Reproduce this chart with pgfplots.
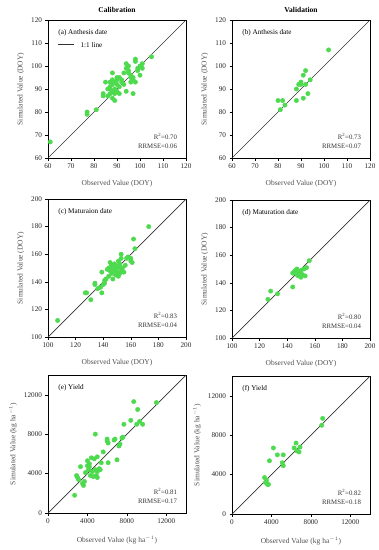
\documentclass[border=0pt]{standalone}
\usepackage{pgfplots}
\pgfplotsset{compat=1.18}
\usepackage{fontspec}
\setmainfont{Liberation Serif}
\definecolor{pt}{RGB}{78,218,78}
\definecolor{lab}{RGB}{80,80,80}
\pgfplotsset{
  panel/.style={
    scale only axis, width=138pt, height=138pt,
    anchor=north west,
    tick align=outside, xtick pos=bottom, ytick pos=left,
    major tick length=2.5pt,
    tick style={black, line width=0.4pt},
    axis line style={line width=0.5pt},
    /pgf/number format/assume math mode=true,
    /pgf/number format/set thousands separator={},
    scaled ticks=false,
    ticklabel style={font=\fontsize{7.2}{8}\selectfont, text=black!85},
    label style={font=\fontsize{7.5}{8}\selectfont, text=lab},
    xlabel style={yshift=-5pt},
    ylabel style={yshift=0pt},
    clip=false,
  },
  dots/.style={only marks, mark=*, mark size=2.2pt, color=pt, mark options={draw=pt, fill=pt}},
  oneline/.style={black!80, line width=0.7pt, no marks},
}
\newcommand{\ptxt}[1]{\node[anchor=north west, font=\fontsize{7.2}{8}\selectfont] at (rel axis cs:0.05,0.96) {#1};}
\newcommand{\stat}[2]{\node[anchor=south east, align=right, font=\fontsize{6.8}{9}\selectfont, text=black!80] at (rel axis cs:0.96,0.04) {R\textsuperscript{2}=#1\\RRMSE=#2};}
\begin{document}
\begin{tikzpicture}
\useasboundingbox (0pt,0pt) rectangle (379pt,-550pt);
\node[font=\bfseries\fontsize{7.5}{8}\selectfont] at (117pt,-10pt) {Calibration};
\node[font=\bfseries\fontsize{7.5}{8}\selectfont] at (301pt,-10pt) {Validation};
% (a)
\begin{axis}[panel, at={(48pt,-20pt)}, xmin=60, xmax=120, ymin=60, ymax=120,
  xtick={60,70,...,120}, ytick={60,70,...,120},
  xlabel={Observed Value (DOY)}, ylabel={Simulated Value (DOY)}]
\addplot[oneline] coordinates {(60,60) (120,120)};
\addplot[dots] coordinates {
(61,67) (77,80) (77,79) (81,81) (84,87) (84,88) (85,93) (86,87) (87,88) (87,90)
(87,91) (88,89) (88,92) (88,86) (89,85) (88,94) (88,97) (89,90) (89,93) (90,92)
(90,94) (90,95) (91,88) (91,95) (91,91) (92,93) (93,97) (94,89) (94,99) (94,101)
(95,97) (95,98) (96,95) (96,96) (97,94) (97,88) (97,95) (98,102) (98,103) (98,93)
(99,99) (99,98) (100,96) (101,99) (101,101) (100,100) (105,104) (92,94) (93,92) (86,90)
(89,88) (90,89) (95,100) (96,93) (87,93)};
\ptxt{(a) Anthesis date}
\draw[black!80, line width=0.7pt] (rel axis cs:0.07,0.82) -- (rel axis cs:0.19,0.82);
\node[anchor=west, font=\fontsize{7.2}{8}\selectfont] at (rel axis cs:0.21,0.82) {1:1 line};
\stat{0.70}{0.06}
\end{axis}
% (b)
\begin{axis}[panel, at={(232pt,-20pt)}, xmin=60, xmax=120, ymin=60, ymax=120,
  xtick={60,70,...,120}, ytick={60,70,...,120},
  xlabel={Observed Value (DOY)}, ylabel={Simulated Value (DOY)}]
\addplot[oneline] coordinates {(60,60) (120,120)};
\addplot[dots] coordinates {
(80,85) (82,85) (81,81) (83,83) (88,85) (88,90) (89,92) (90,93) (90,92) (91,96)
(91,86) (92,98) (92,92) (93,88) (94,94) (102,107)};
\ptxt{(b) Anthesis date}
\stat{0.73}{0.07}
\end{axis}
% (c)
\begin{axis}[panel, at={(48pt,-199pt)}, xmin=100, xmax=200, ymin=100, ymax=200,
  xtick={100,120,...,200}, ytick={100,120,...,200},
  xlabel={Observed Value (DOY)}, ylabel={Simulated Value (DOY)}]
\addplot[oneline] coordinates {(100,100) (200,200)};
\addplot[dots] coordinates {
(107,112) (127,132) (128,132) (131,127) (134,139) (134,138) (136,135) (138,136) (139,132) (139,147)
(140,138) (141,141) (142,142) (143,149) (144,144) (144,150) (145,154) (145,148) (146,146) (146,152)
(147,142) (147,150) (148,148) (148,153) (149,152) (149,145) (150,150) (150,147) (151,144) (151,155)
(151,151) (152,146) (152,153) (153,157) (153,160) (153,148) (154,150) (155,147) (156,152) (157,157)
(158,158) (160,155) (160,157) (161,154) (162,171) (163,164) (173,180) (141,139) (150,145) (152,151)};
\ptxt{(c) Maturaion date}
\stat{0.83}{0.04}
\end{axis}
% (d)
\begin{axis}[panel, at={(232pt,-200pt)}, xmin=100, xmax=200, ymin=100, ymax=200,
  xtick={100,120,...,200}, ytick={100,120,...,200},
  xlabel={Observed Value (DOY)}, ylabel={Simulated Value (DOY)}]
\addplot[oneline] coordinates {(100,100) (200,200)};
\addplot[dots] coordinates {
(126,128) (128,134) (133,132) (144,137) (144,147) (145,148) (146,149) (147,150) (147,146) (148,145)
(149,147) (150,144) (150,149) (151,146) (152,150) (153,145) (154,151) (156,156) (149,148)};
\ptxt{(d) Maturation date}
\stat{0.80}{0.04}
\end{axis}
% (e)
\begin{axis}[panel, at={(48pt,-375pt)}, xmin=0, xmax=14000, ymin=0, ymax=14000,
  xtick={0,4000,8000,12000}, ytick={0,4000,8000,12000},
  xlabel={Observed Value (kg ha\textsuperscript{$-1$})}, ylabel={Simulated Value (kg ha\textsuperscript{$-1$})}]
\addplot[oneline] coordinates {(0,0) (14000,14000)};
\addplot[dots] coordinates {
(2700,1800) (2900,3800) (3000,3600) (3100,3400) (3300,4700) (3500,3000) (3600,2800) (3700,3200) (3800,4100) (4000,4800)
(4000,5300) (4100,4400) (4200,5000) (4300,3800) (4400,5600) (4500,4200) (4600,3700) (4700,5500) (4800,8000) (4800,4400)
(4900,3800) (5000,3600) (5000,5700) (5200,4500) (5300,4400) (5400,5100) (5600,6200) (6000,7300) (6000,7500) (6100,5100)
(6100,7100) (6700,7400) (6800,7500) (7000,5400) (7200,6800) (7300,7000) (7500,7600) (7600,7700) (7700,9000) (8400,9400)
(8700,11300) (9000,9000) (9100,10500) (9300,9300) (9600,9000) (11000,11200) (4200,4700) (5000,4200)};
\ptxt{(e) Yield}
\stat{0.81}{0.17}
\end{axis}
% (f)
\begin{axis}[panel, at={(232pt,-376pt)}, xmin=0, xmax=14000, ymin=0, ymax=14000,
  xtick={0,4000,8000,12000}, ytick={0,4000,8000,12000},
  xlabel={Observed Value (kg ha\textsuperscript{$-1$})}, ylabel={Simulated Value (kg ha\textsuperscript{$-1$})}]
\addplot[oneline] coordinates {(0,0) (14000,14000)};
\addplot[dots] coordinates {
(3300,3700) (3400,3200) (3500,3400) (3600,3000) (3700,3000) (3800,5400) (4200,6700) (4600,6000) (5100,5200) (5200,4900)
(5200,6000) (6300,6700) (6500,7200) (6600,6400) (6800,6300) (6900,6800) (9100,9000) (9200,9700)};
\ptxt{(f) Yield}
\stat{0.82}{0.18}
\end{axis}
\end{tikzpicture}
\end{document}
